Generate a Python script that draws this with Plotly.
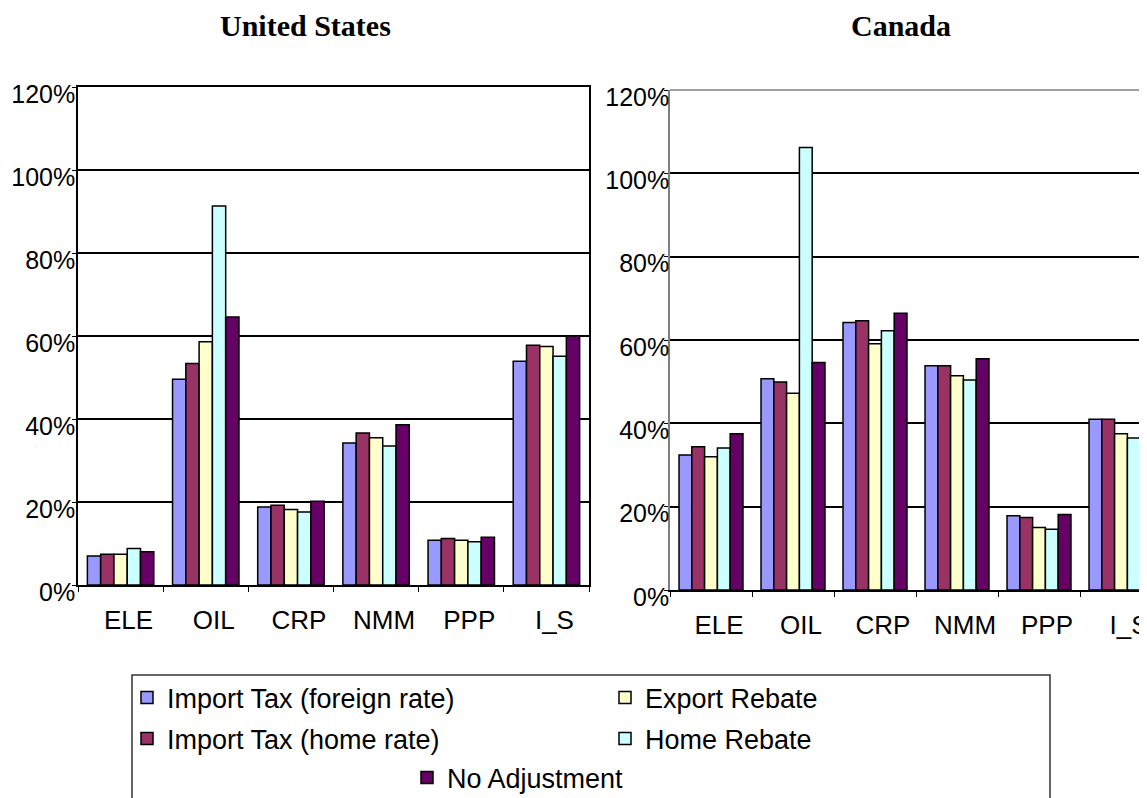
import plotly.graph_objects as go

W, H = 1147, 798
OFF = 8  # page body margin in the browser

categories = ["ELE", "OIL", "CRP", "NMM", "PPP", "I_S"]
series_names = ["Import Tax (foreign rate)", "Import Tax (home rate)",
                "Export Rebate", "Home Rebate", "No Adjustment"]
series_colors = ["#9999FF", "#993366", "#FFFFCC", "#CCFFFF", "#660066"]

# United States (%)
us_import_foreign = [7.0, 49.6, 18.8, 34.2, 10.8, 53.9]
us_import_home = [7.4, 53.4, 19.2, 36.6, 11.2, 57.8]
us_export_rebate = [7.4, 58.6, 18.2, 35.5, 10.8, 57.5]
us_home_rebate = [8.8, 91.3, 17.6, 33.5, 10.4, 55.1]
us_no_adjustment = [8.0, 64.6, 20.2, 38.6, 11.5, 60.0]

# Canada (%)
ca_import_foreign = [32.4, 50.7, 64.2, 53.8, 17.8, 41.0]
ca_import_home = [34.4, 49.9, 64.6, 53.8, 17.4, 41.0]
ca_export_rebate = [32.0, 47.2, 59.1, 51.4, 15.0, 37.5]
ca_home_rebate = [34.1, 106.2, 62.2, 50.4, 14.6, 36.5]
ca_no_adjustment = [37.5, 54.6, 66.4, 55.5, 18.1, 43.0]

y_ticks = [0, 20, 40, 60, 80, 100, 120]
y_tick_labels = ["0%", "20%", "40%", "60%", "80%", "100%", "120%"]

us_series = [us_import_foreign, us_import_home, us_export_rebate, us_home_rebate, us_no_adjustment]
ca_series = [ca_import_foreign, ca_import_home, ca_export_rebate, ca_home_rebate, ca_no_adjustment]

legend_ids = ["legend", "legend2", "legend3", "legend4", "legend5"]

fig = go.Figure()
for i, name in enumerate(series_names):
    fig.add_trace(go.Bar(
        x=categories, y=us_series[i], name=name,
        marker=dict(color=series_colors[i], line=dict(color="black", width=1.5)),
        xaxis="x", yaxis="y", legend=legend_ids[i], showlegend=True,
    ))
for i, name in enumerate(series_names):
    fig.add_trace(go.Bar(
        x=categories, y=ca_series[i], name=name,
        marker=dict(color=series_colors[i], line=dict(color="black", width=1.5)),
        xaxis="x2", yaxis="y2", showlegend=False,
    ))


def px(x):
    return (x - OFF) / W


def py(y):
    return 1 - (y - OFF) / H


tick_font = dict(family="Liberation Sans, Arial, sans-serif", size=25, color="black")
cat_font = dict(family="Liberation Sans, Arial, sans-serif", size=26, color="black")

common_y = dict(
    range=[0, 120], tickmode="array", tickvals=y_ticks, ticktext=y_tick_labels,
    showgrid=True, gridcolor="black", gridwidth=1.5,
    ticks="outside", ticklen=4, tickcolor="black",
    tickfont=tick_font, zeroline=False, ticklabelshift=7,
    fixedrange=True,
)
common_x = dict(
    type="category", tickson="boundaries", ticks="outside", ticklen=5,
    tickcolor="black", tickfont=cat_font, showgrid=False,
    ticklabelshift=8, ticklabelstandoff=11, fixedrange=True,
)

# Canada: category width 82 px, plot starts at x=670 and runs past the right edge
ca_left = 670
ca_right_fig = W + OFF
ca_cat_w = 82.0
ca_range_end = -0.5 + (ca_right_fig - ca_left) / ca_cat_w

fig.update_layout(
    width=W, height=H,
    margin=dict(l=0, r=0, t=0, b=0, autoexpand=False),
    paper_bgcolor="white", plot_bgcolor="white",
    barmode="group", bargap=0.22, bargroupgap=0,
    xaxis=dict(common_x, domain=[px(78), px(589)], range=[-0.5, 5.5],
               showline=True, linecolor="black", linewidth=1.5, mirror=True,
               anchor="y"),
    yaxis=dict(common_y, domain=[py(585), py(87)], ticklabelstandoff=-8,
               showline=True, linecolor="black", linewidth=1.5, mirror=True,
               anchor="x"),
    xaxis2=dict(common_x, domain=[px(ca_left), 1.0], range=[-0.5, ca_range_end],
                showline=True, linecolor="black", linewidth=1.5, mirror=False,
                anchor="y2"),
    yaxis2=dict(common_y, domain=[py(590), py(90)], ticklabelstandoff=-10,
                showline=True, linecolor="#808080", linewidth=1.5, mirror=False,
                anchor="x2"),
    showlegend=True,
)

# top border of Canada plot (gray)
fig.add_shape(type="line", xref="x2 domain", yref="y2 domain", x0=0, x1=1, y0=1, y1=1,
              line=dict(color="#808080", width=1.5))

# titles
title_font = dict(family="Liberation Serif, Times New Roman, serif", size=30, color="black")
fig.add_annotation(text="<b>United States</b>", x=px(305), y=py(26), xref="paper", yref="paper",
                   xanchor="center", yanchor="middle", showarrow=False, font=title_font)
fig.add_annotation(text="<b>Canada</b>", x=px(901), y=py(26), xref="paper", yref="paper",
                   xanchor="center", yanchor="middle", showarrow=False, font=title_font)

# legend frame
fig.add_shape(type="rect", xref="paper", yref="paper",
              x0=px(132), x1=px(1050), y0=py(840), y1=py(675),
              line=dict(color="#333333", width=1.5), fillcolor="rgba(0,0,0,0)")

leg_font = dict(family="Liberation Sans, Arial, sans-serif", size=27, color="black")
leg_pos = [(127, 698), (127, 739), (605, 698), (605, 739), (407, 778)]
for lid, (lx, ly) in zip(legend_ids, leg_pos):
    fig.update_layout({lid: dict(
        x=px(lx), y=py(ly), xanchor="left", yanchor="middle",
        xref="paper", yref="paper", font=leg_font,
        bgcolor="rgba(0,0,0,0)", borderwidth=0, itemwidth=30,
        itemclick=False, itemdoubleclick=False,
    )})

fig.write_html("out.html")
